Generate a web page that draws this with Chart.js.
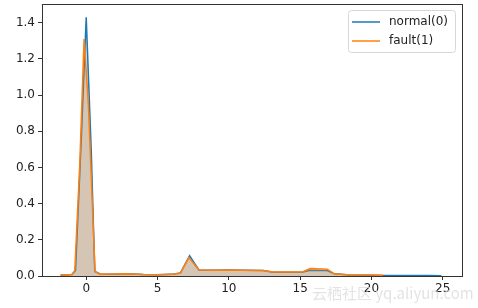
<!DOCTYPE html>
<html>
<head>
<meta charset="utf-8">
<script src="https://cdn.jsdelivr.net/npm/chart.js@4.4.1/dist/chart.umd.min.js"></script>
<style>
html,body{margin:0;padding:0;background:#fff;}
#wrap{width:478px;height:308px;position:relative;}
</style>
</head>
<body>
<div id="wrap"><canvas id="c"></canvas></div>
<script>
// density curves
const normalX = [-1.8, -1.0, -0.75, -0.35, 0.0, 0.35, 0.6, 1.0, 2.0, 2.8, 4.0, 5.0, 6.0, 6.6, 7.25, 7.9, 9.0, 10.0, 11.0, 12.4, 13.0, 14.0, 15.2, 15.7, 16.9, 17.4, 18.5, 20.0, 21.0, 22.0, 23.0, 24.0, 24.9];
const normalY = [0.004, 0.008, 0.03, 0.75, 1.43, 0.7, 0.025, 0.01, 0.01, 0.012, 0.008, 0.007, 0.009, 0.016, 0.112, 0.033, 0.032, 0.033, 0.032, 0.03, 0.022, 0.021, 0.022, 0.032, 0.03, 0.012, 0.006, 0.004, 0.003, 0.003, 0.003, 0.003, 0.002];
const faultX = [-1.8, -1.0, -0.8, -0.45, -0.15, 0.15, 0.62, 1.0, 2.0, 2.8, 4.0, 5.0, 6.0, 6.6, 7.2, 7.9, 9.0, 10.0, 11.0, 12.4, 13.0, 14.0, 15.2, 15.7, 16.9, 17.4, 18.5, 20.0, 20.8];
const faultY = [0.005, 0.008, 0.03, 0.62, 1.31, 0.95, 0.025, 0.01, 0.011, 0.012, 0.008, 0.007, 0.009, 0.016, 0.102, 0.033, 0.032, 0.033, 0.032, 0.03, 0.023, 0.022, 0.024, 0.041, 0.038, 0.012, 0.006, 0.005, 0.004];
const xTicks = [0, 5, 10, 15, 20, 25];
const yTicks = [0, 0.2, 0.4, 0.6, 0.8, 1.0, 1.2, 1.4];
const seriesNames = ["normal(0)", "fault(1)"];

const blue = "#1f77b4";
const orange = "#ff7f0e";
const toPts = (xs, ys) => xs.map((x, i) => ({x: x, y: ys[i]}));

/* frame, legend, watermark */
const extras = {
  id: "extras",
  afterDraw(chart) {
    const ctx = chart.ctx, a = chart.chartArea;
    ctx.save();
    ctx.strokeStyle = "#333";
    ctx.lineWidth = 1;
    ctx.strokeRect(Math.round(a.left) + 0.5, Math.round(a.top) + 0.5, Math.round(a.right - a.left), Math.round(a.bottom - a.top));

    // legend
    const lx = 348, ly = 10, lw = 107, lh = 42;
    ctx.fillStyle = "rgba(255,255,255,0.8)";
    ctx.strokeStyle = "#d6d6d6";
    ctx.beginPath();
    ctx.roundRect(lx + 0.5, ly + 0.5, lw, lh, 3);
    ctx.fill();
    ctx.stroke();
    const cols = [blue, orange];
    ctx.font = "12px 'DejaVu Sans'";
    ctx.textBaseline = "middle";
    seriesNames.forEach((n, i) => {
      const y = ly + 12 + i * 19;
      ctx.strokeStyle = cols[i];
      ctx.lineWidth = 1.5;
      ctx.beginPath();
      ctx.moveTo(352, y);
      ctx.lineTo(380, y);
      ctx.stroke();
      ctx.fillStyle = "#222";
      ctx.fillText(n, 389, y);
    });

    // watermark
    ctx.font = "15px 'Noto Sans CJK SC'";
    ctx.fillStyle = "rgba(215,215,215,0.7)";
    ctx.fillText("云栖社区 yq.aliyun.com", 312, 293);
    ctx.restore();
  }
};

new Chart(document.getElementById("c"), {
  type: "line",
  data: {
    datasets: [
      {label: seriesNames[0], data: toPts(normalX, normalY), borderColor: blue, backgroundColor: "rgba(31,119,180,0.25)", fill: "origin", borderWidth: 1.5, pointRadius: 0, tension: 0, order: 1},
      {label: seriesNames[1], data: toPts(faultX, faultY), borderColor: orange, backgroundColor: "rgba(255,127,14,0.25)", fill: "origin", borderWidth: 1.5, pointRadius: 0, tension: 0, order: 0}
    ]
  },
  options: {
    responsive: true,
    maintainAspectRatio: false,
    animation: false,
    layout: {padding: {top: 4, right: 16, left: 0, bottom: 0}},
    plugins: {legend: {display: false}, tooltip: {enabled: false}},
    scales: {
      x: {
        type: "linear", min: -3.1, max: 26.35,
        afterBuildTicks: s => { s.ticks = xTicks.map(v => ({value: v})); },
        afterFit: s => { s.height = 32; s.paddingLeft = 0; s.paddingRight = 0; },
        grid: {drawOnChartArea: false, tickLength: 4, color: "#333"},
        border: {color: "#333"},
        ticks: {color: "#222", font: {family: "DejaVu Sans", size: 12}, padding: 2, maxRotation: 0, callback: v => String(v)}
      },
      y: {
        min: 0, max: 1.503,
        afterBuildTicks: s => { s.ticks = yTicks.map(v => ({value: v})); },
        afterFit: s => { s.width = 42; s.paddingTop = 0; s.paddingBottom = 0; },
        grid: {drawOnChartArea: false, tickLength: 4, color: "#333"},
        border: {color: "#333"},
        ticks: {color: "#222", font: {family: "DejaVu Sans", size: 12}, padding: 3, callback: v => v.toFixed(1)}
      }
    }
  },
  plugins: [extras]
});
</script>
</body>
</html>
